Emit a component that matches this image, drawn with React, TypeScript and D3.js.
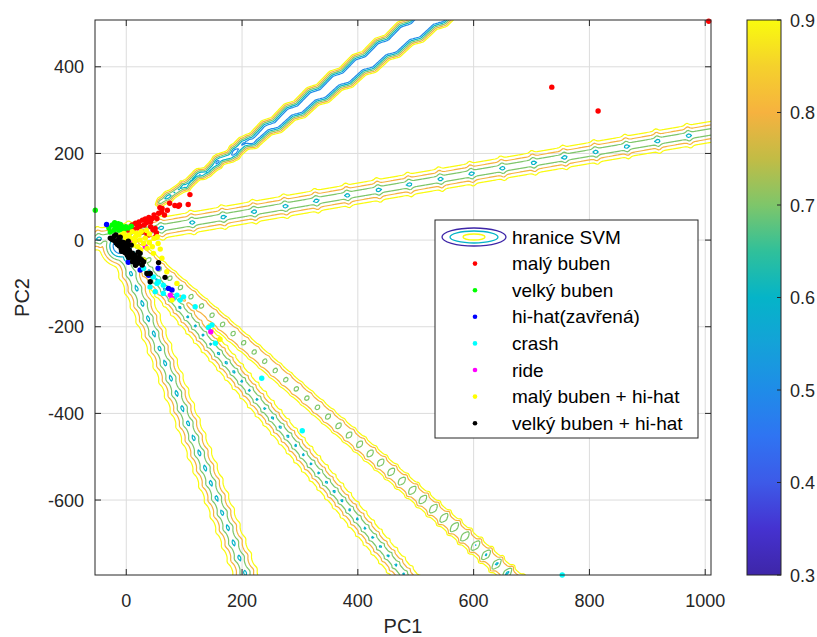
import React, { useMemo } from 'react';
import * as d3 from 'd3';

const WIDTH = 817;
const HEIGHT = 637;

const X_DOMAIN: [number, number] = [-54, 1010];
const Y_DOMAIN: [number, number] = [-773, 508];
const X_TICKS = [0, 200, 400, 600, 800, 1000];
const Y_TICKS = [-600, -400, -200, 0, 200, 400];
const CB_DOMAIN: [number, number] = [0.3, 0.9];
const CB_TICKS = [0.3, 0.4, 0.5, 0.6, 0.7, 0.8, 0.9];
const CONTOUR_LEVELS = [0.5, 0.6, 0.7, 0.8, 0.9];

const CLASS_LABELS = [
  'malý buben',
  'velký buben',
  'hi-hat(zavřená)',
  'crash',
  'ride',
  'malý buben + hi-hat',
  'velký buben + hi-hat',
];
const CLASS_COLORS = ['#ff0000', '#00ff00', '#0000ff', '#00ffff', '#ff00ff', '#ffff00', '#000000'];

// PCA scores per class (PC1, PC2)
const malyBuben: [number, number][] = [
  [75, 85], [92, 81], [62, 73], [71, 69], [56, 62], [48, 58], [39, 52], [33, 49], [28, 46], [22, 42],
  [16, 39], [10, 35], [31, 35], [42, 42], [28, 19], [36, 13], [51, 8], [42, 31], [110, 105], [107, 82],
  [90, 78], [61, 65], [53, 50], [38, 46], [50, 27], [52, 17], [38, 12], [3, 23], [19, 28], [24, 32],
  [12, 25], [45, 50], [66, 58], [84, 80], [58, 75], [20, 36], [35, 40], [46, 24],
  [1006, 505], [735, 353], [815, 298],
];
const velkyBuben: [number, number][] = [
  [-53.5, 69], [-24, 35], [-15.5, 31], [-7, 31], [-21, 23], [-12.6, 23], [-4, 23], [-1, 31], [-18.5, 27],
  [-10, 36], [3.5, 28], [-27.6, 18.5], [8.6, 32], [-30, 28], [-20, 40], [-8, 26], [-14, 38],
];
const hiHat: [number, number][] = [
  [-34, 36], [24, -69], [38.5, -81], [73, -111.5], [79, -115], [3.5, -51], [55, -65],
];
const crash: [number, number][] = [
  [30, -65], [47, -85], [56, -96], [41, -108], [50, -119], [64, -123], [87.5, -127], [93, -138.5],
  [53, -100], [64, -104], [82, -134.5], [99, -131], [119, -154], [142, -201.5], [154, -238], [148, -196],
  [234, -319], [304, -440], [753, -773],
];
const ride: [number, number][] = [
  [7, -4], [33, -15.5], [76, -127], [79, -134.5], [146, -211.6], [3.5, -7],
];
const malyBubenHiHat: [number, number][] = [
  [-4, 15.5], [4.7, 11.5], [10.4, 19.2], [16, 7.6], [-1.2, 3.9], [22, 11.5], [48, 3.9], [53.5, 7.6],
  [36, -19], [13, -7.6], [45, -15.5], [12.6, -11.5], [30, -7.6], [47, -30.7], [61.6, -42], [30, -46],
  [70, -73], [87.5, -100], [79, -138.5], [162, -229], [58.7, -20.8], [-13.8, 9.2], [24, 0], [33, 4.6],
  [0, 8], [8, 4], [18, 16], [26, 20], [35, 22], [40, 14], [15, -2], [20, -15], [40, -6], [55, -8],
  [25, -22], [-8, 12],
];
const velkyBubenHiHat: [number, number][] = [
  [-27.6, 4.6], [-22.4, 0], [-17.3, -6.9], [-12, -13.8], [-8.6, -20.8], [-3.5, -27.7], [1.7, -34.6],
  [6.9, -39], [12, -44], [17, -48.5], [-13.8, 0], [-6.9, -4.6], [0, -13.8], [5.2, -23], [10.4, -30],
  [15.5, -34.6], [20.7, -27.7], [3.5, -2.3], [-20.7, 9.2], [-10.4, 6.9], [-5.2, -16], [8.6, -11.5],
  [24, -30.7], [55.8, -52], [41.4, -77], [35.7, -77], [67, -86], [41.4, -96], [27.6, -57.7], [20.7, -53],
  [-25, 2], [-19, -2], [-15, -10], [-10, -8], [-6, -12], [-2, -20], [2, -18], [6, -28], [9, -35],
  [14, -40], [18, -44], [-8, -26], [-1, -30], [4, -40], [11, -50], [22, -40], [26, -45], [30, -50],
  [16, -58], [-18, 12], [-12, 4], [-4, -6], [2, -8],
];
const CLASS_POINTS = [malyBuben, velkyBuben, hiHat, crash, ride, malyBubenHiHat, velkyBubenHiHat];

// Axes of the SVM boundary valleys (start / far point, PC1-PC2 units)
const BAND_START: [number, number][] = [[58, 87], [-60, 0], [-14, 0], [-5, 0], [0, 0]];
const BAND_END: [number, number][] = [[600, 580], [1100, 271], [260, -960], [560, -900], [770, -900]];
const HUB_CENTER: [number, number] = [-10, -14];

// parula-like colormap stops
const CMAP_VALUES = [0.3, 0.35, 0.4, 0.45, 0.5, 0.55, 0.6, 0.65, 0.7, 0.75, 0.8, 0.85, 0.9];
const CMAP_COLORS = [
  '#3e26a8', '#4532d0', '#3d5ae8', '#2f74f2', '#1f8ce8', '#14a2d8', '#05b4c8',
  '#30c09a', '#7ec66a', '#c2bc45', '#f6b23f', '#f5d12c', '#f9fb0e',
];

const PLOT = { left: 95, right: 711, top: 20, bottom: 575 };
const CB = { left: 747, right: 781 };
const FONT = "'Liberation Sans', Arial, Helvetica, sans-serif";
const AXIS_COLOR = '#262626';

const frac = (u: number) => ((u % 1) + 1) % 1;
const clamp01 = (v: number) => Math.max(0, Math.min(1, v));
function islands(s: number, period: number, sigma: number, phase: number) {
  const u = frac((s + phase) / period) - 0.5;
  const t = (u * period) / sigma;
  return Math.exp(-t * t);
}

type Band = { ax: number; ay: number; tx: number; ty: number };

function bandValue(k: number, b: Band, px: number, py: number) {
  const rx = px - b.ax;
  const ry = py - b.ay;
  const s = rx * b.tx + ry * b.ty;
  let dsg = -rx * b.ty + ry * b.tx;
  if (k === 0) {
    // stepped edges of the steep valley
    if (s > 30) {
      const u = frac(s / 28);
      const tri = u < 0.65 ? u / 0.65 : (1 - u) / 0.35;
      dsg += 3.2 * tri - 1.6;
    }
    const d = Math.abs(dsg);
    let c: number;
    let h = 0;
    if (s < 0) c = 0.6 + 0.05 * -s;
    else {
      c = 0.6 - 0.15 * clamp01(s / 150);
      const amp = 0.08 * (1 - clamp01((s - 100) / 30));
      c -= amp * islands(s, 20, 3, 0);
      h = 7.5 * clamp01((s - 60) / 260);
    }
    return c + 0.065 * Math.max(0, d - h);
  }
  let d = Math.abs(dsg);
  if (k === 1) {
    const c = 0.61 - 0.06 * islands(s, 31.5, 2.5, 8);
    return c + 0.028 * d;
  }
  if (s < 0) d = Math.hypot(rx, ry);
  if (k === 2) {
    const c = 0.615 - 0.05 * islands(s, 16, 3.5, 4);
    return c + 0.026 * d;
  }
  if (k === 3) {
    const c = 0.615 - 0.045 * islands(s, 12, 1.6, 2);
    return c + 0.027 * d;
  }
  const amp = 0.035 + 0.1 * clamp01((s - 250) / 250);
  const c = 0.715 - amp * islands(s, 14, 2.2, 5);
  return c + 0.00265 * d * d;
}

export default function App() {
  const x = d3.scaleLinear().domain(X_DOMAIN).range([PLOT.left, PLOT.right]);
  const y = d3.scaleLinear().domain(Y_DOMAIN).range([PLOT.bottom, PLOT.top]);
  const cb = d3.scaleLinear().domain(CB_DOMAIN).range([PLOT.bottom, PLOT.top]);
  const cmap = d3.scaleLinear<string>().domain(CMAP_VALUES).range(CMAP_COLORS).interpolate(d3.interpolateRgb);

  const contours = useMemo(() => {
    const pad = 6;
    const step = 1.5;
    const pxL = PLOT.left - pad;
    const pxR = PLOT.right + pad;
    const pyT = PLOT.top - pad;
    const pyB = PLOT.bottom + pad;
    const nx = Math.ceil((pxR - pxL) / step) + 1;
    const ny = Math.ceil((pyB - pyT) / step) + 1;
    const gx0 = x.invert(pxL);
    const gx1 = x.invert(pxR);
    const gyTop = y.invert(pyT);
    const gyBot = y.invert(pyB);
    const ddx = (gx1 - gx0) / (nx - 1);
    const ddy = (gyTop - gyBot) / (ny - 1);

    const bands: Band[] = BAND_START.map((p, k) => {
      const ax = x(p[0]);
      const ay = y(p[1]);
      const bx = x(BAND_END[k][0]);
      const by = y(BAND_END[k][1]);
      const L = Math.hypot(bx - ax, by - ay);
      return { ax, ay, tx: (bx - ax) / L, ty: (by - ay) / L };
    });
    const hx = x(HUB_CENTER[0]);
    const hy = y(HUB_CENTER[1]);
    const tau = 0.02;

    const values: number[] = new Array(nx * ny);
    for (let j = 0; j < ny; j++) {
      const py = y(gyTop - j * ddy);
      for (let i = 0; i < nx; i++) {
        const px = x(gx0 + i * ddx);
        let sum = 0;
        for (let k = 0; k < bands.length; k++) {
          const v = Math.min(1.5, bandValue(k, bands[k], px, py));
          sum += Math.exp(-v / tau);
        }
        const r = Math.hypot(px - hx, py - hy);
        const vh = Math.min(1.5, 0.46 + 0.03 * Math.max(0, r - 6));
        sum += Math.exp(-vh / tau);
        values[j * nx + i] = tau * Math.log(sum); // negated soft-min
      }
    }

    const gen = d3.contours().size([nx, ny]).thresholds(CONTOUR_LEVELS.map((v) => -v));
    const polys = gen(values);
    const proj = d3.geoTransform({
      point(gx: number, gy: number) {
        this.stream.point(x(gx0 + (gx - 0.5) * ddx), y(gyTop - (gy - 0.5) * ddy));
      },
    });
    const path = d3.geoPath(proj);
    return polys.map((c) => ({ level: -c.value, d: path(c as any) || '' }));
  }, []);

  const tickLen = 6;
  const legend = { left: 435, top: 220, right: 698, bottom: 438 };
  const rowY = (i: number) => 237 + i * 26.6;

  return (
    <svg
      width={WIDTH}
      height={HEIGHT}
      style={{ position: 'absolute', left: 0, top: 0, background: '#fff' }}
      fontFamily={FONT}
    >
      <defs>
        <clipPath id="plot-clip">
          <rect x={PLOT.left} y={PLOT.top} width={PLOT.right - PLOT.left} height={PLOT.bottom - PLOT.top} />
        </clipPath>
        <linearGradient id="cb-grad" x1="0" y1="1" x2="0" y2="0">
          {CMAP_VALUES.map((v, i) => (
            <stop key={i} offset={(v - CB_DOMAIN[0]) / (CB_DOMAIN[1] - CB_DOMAIN[0])} stopColor={CMAP_COLORS[i]} />
          ))}
        </linearGradient>
      </defs>

      <rect x={PLOT.left} y={PLOT.top} width={PLOT.right - PLOT.left} height={PLOT.bottom - PLOT.top} fill="#fff" />

      {/* grid */}
      <g stroke="#dcdcdc" strokeWidth={1}>
        {X_TICKS.map((t) => (
          <line key={t} x1={x(t)} x2={x(t)} y1={PLOT.top} y2={PLOT.bottom} />
        ))}
        {Y_TICKS.map((t) => (
          <line key={t} x1={PLOT.left} x2={PLOT.right} y1={y(t)} y2={y(t)} />
        ))}
      </g>

      {/* SVM boundary contours */}
      <g clipPath="url(#plot-clip)" fill="none" strokeWidth={1.2} strokeLinejoin="round">
        {contours.map((c, i) => (
          <path key={i} d={c.d} stroke={cmap(c.level)} />
        ))}
      </g>

      {/* samples */}
      <g>
        {CLASS_POINTS.map((pts, ci) =>
          pts.map((p, i) => <circle key={`${ci}-${i}`} cx={x(p[0])} cy={y(p[1])} r={2.7} fill={CLASS_COLORS[ci]} />)
        )}
      </g>

      {/* axes box and ticks */}
      <g stroke={AXIS_COLOR} strokeWidth={1}>
        <rect x={PLOT.left} y={PLOT.top} width={PLOT.right - PLOT.left} height={PLOT.bottom - PLOT.top} fill="none" />
        {X_TICKS.map((t) => (
          <g key={t}>
            <line x1={x(t)} x2={x(t)} y1={PLOT.bottom} y2={PLOT.bottom - tickLen} />
            <line x1={x(t)} x2={x(t)} y1={PLOT.top} y2={PLOT.top + tickLen} />
          </g>
        ))}
        {Y_TICKS.map((t) => (
          <g key={t}>
            <line x1={PLOT.left} x2={PLOT.left + tickLen} y1={y(t)} y2={y(t)} />
            <line x1={PLOT.right} x2={PLOT.right - tickLen} y1={y(t)} y2={y(t)} />
          </g>
        ))}
      </g>
      <g fill={AXIS_COLOR} fontSize={18}>
        {X_TICKS.map((t) => (
          <text key={t} x={x(t)} y={PLOT.bottom + 32} textAnchor="middle">
            {t}
          </text>
        ))}
        {Y_TICKS.map((t) => (
          <text key={t} x={PLOT.left - 11} y={y(t) + 6.5} textAnchor="end">
            {t}
          </text>
        ))}
      </g>
      <text x={(PLOT.left + PLOT.right) / 2} y={633} textAnchor="middle" fontSize={20} fill={AXIS_COLOR}>
        PC1
      </text>
      <text
        transform={`translate(29, ${(PLOT.top + PLOT.bottom) / 2}) rotate(-90)`}
        textAnchor="middle"
        fontSize={20}
        fill={AXIS_COLOR}
      >
        PC2
      </text>

      {/* legend */}
      <rect
        x={legend.left}
        y={legend.top}
        width={legend.right - legend.left}
        height={legend.bottom - legend.top}
        fill="#fff"
        stroke={AXIS_COLOR}
        strokeWidth={1}
      />
      <g fill="none" strokeWidth={1.3}>
        <ellipse cx={474} cy={rowY(0)} rx={32} ry={9} stroke={cmap(0.3)} />
        <ellipse cx={474} cy={rowY(0)} rx={24} ry={6} stroke={cmap(0.6)} />
        <ellipse cx={474} cy={rowY(0)} rx={11} ry={3} stroke={cmap(0.9)} />
      </g>
      <text x={512} y={rowY(0) + 6.5} fontSize={19} fill="#000">
        hranice SVM
      </text>
      {CLASS_LABELS.map((lab, i) => (
        <g key={lab}>
          <circle cx={475} cy={rowY(i + 1)} r={2.3} fill={CLASS_COLORS[i]} />
          <text x={512} y={rowY(i + 1) + 6.5} fontSize={19} fill="#000">
            {lab}
          </text>
        </g>
      ))}

      {/* colorbar */}
      <rect x={CB.left} y={PLOT.top} width={CB.right - CB.left} height={PLOT.bottom - PLOT.top} fill="url(#cb-grad)" />
      <rect
        x={CB.left}
        y={PLOT.top}
        width={CB.right - CB.left}
        height={PLOT.bottom - PLOT.top}
        fill="none"
        stroke={AXIS_COLOR}
        strokeWidth={1}
      />
      <g stroke={AXIS_COLOR}>
        {CB_TICKS.map((t) => (
          <line key={t} x1={CB.right} x2={CB.right - 4} y1={cb(t)} y2={cb(t)} />
        ))}
      </g>
      <g fill={AXIS_COLOR} fontSize={18}>
        {CB_TICKS.map((t) => (
          <text key={t} x={790} y={cb(t) + 6.5}>
            {t.toFixed(1)}
          </text>
        ))}
      </g>
    </svg>
  );
}
